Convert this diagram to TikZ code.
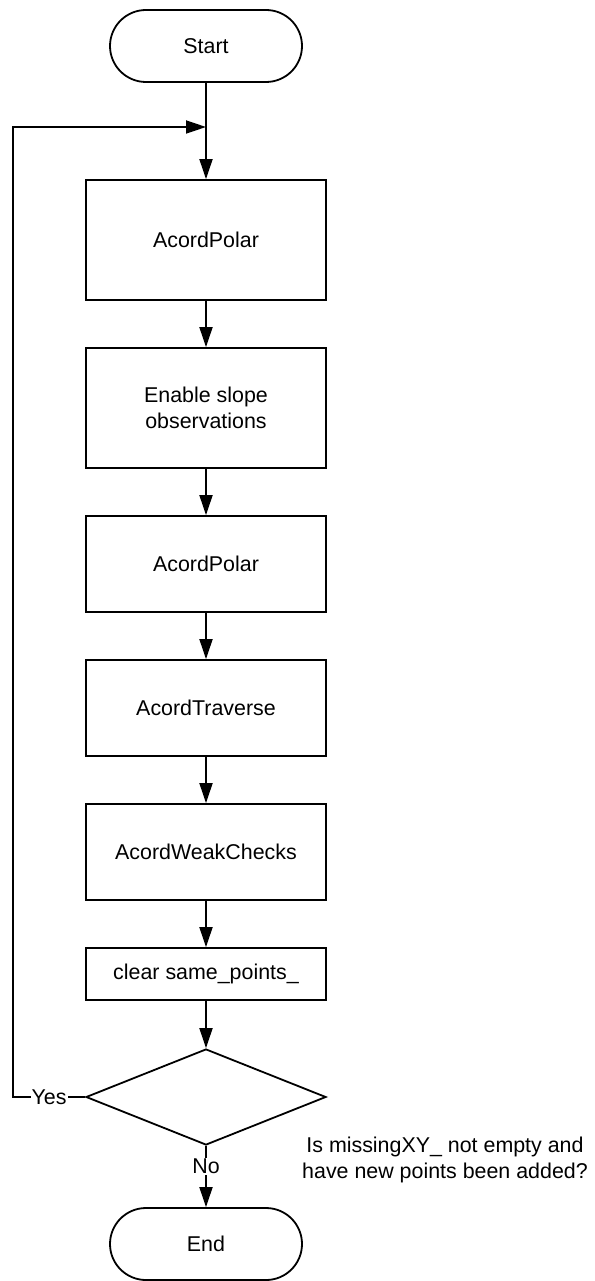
\documentclass[tikz,border=0pt]{standalone}
\usepackage{fontspec}
\setmainfont{Liberation Sans}
\usetikzlibrary{arrows.meta,shapes.geometric}
\tikzset{
  term/.style={draw,line width=1.8pt,rounded corners=36pt,minimum width=192pt,minimum height=72pt},
  proc/.style={draw,line width=1.8pt,minimum width=240pt,minimum height=120pt,align=center},
  dec/.style={draw,diamond,line width=1.8pt,inner sep=0pt,aspect=2.5,minimum width=240pt,minimum height=96pt},
  arr/.style={line width=1.8pt,-{Triangle[length=20pt,width=13pt]}},
  lbl/.style={fill=white,inner sep=1pt}
}
\newcommand{\txt}{\fontsize{21.4}{25.5}\selectfont}

\begin{document}
\begin{tikzpicture}[x=1pt,y=-1pt,font=\txt]
\useasboundingbox (0,0) rectangle (594,1281);
\node[term] (start) at (206,46) {Start};
\node[proc] (polar1) at (206,240) {AcordPolar};
\node[proc] (slope) at (206,408) {Enable slope\\observations};
\node[proc,minimum height=96pt] (polar2) at (206,564) {AcordPolar};
\node[proc,minimum height=96pt] (trav) at (206,708) {AcordTraverse};
\node[proc,minimum height=96pt] (weak) at (206,852) {AcordWeakChecks};
\node[proc,minimum height=52pt] (clear) at (206,974) {clear same\_points\_};
\node[dec] (more) at (206,1097) {};
\node[term] (end) at (206,1244) {End};
\node[align=center] (ask) at (445,1160) {Is missingXY\_ not empty and\\have new points been added?};
\coordinate (merge) at (206,127);
\coordinate (corner) at (13,127);
\draw[arr] (start) -- (polar1);
\draw[arr] (polar1) -- (slope);
\draw[arr] (slope) -- (polar2);
\draw[arr] (polar2) -- (trav);
\draw[arr] (trav) -- (weak);
\draw[arr] (weak) -- (clear);
\draw[arr] (clear) -- (more);
\draw[arr] (more) -- node[lbl,pos=0.33]{No} (end);
\draw[arr] (more.west) -- node[lbl]{Yes} (more.west -| corner) -- (corner) -- (merge);
\end{tikzpicture}
\end{document}
